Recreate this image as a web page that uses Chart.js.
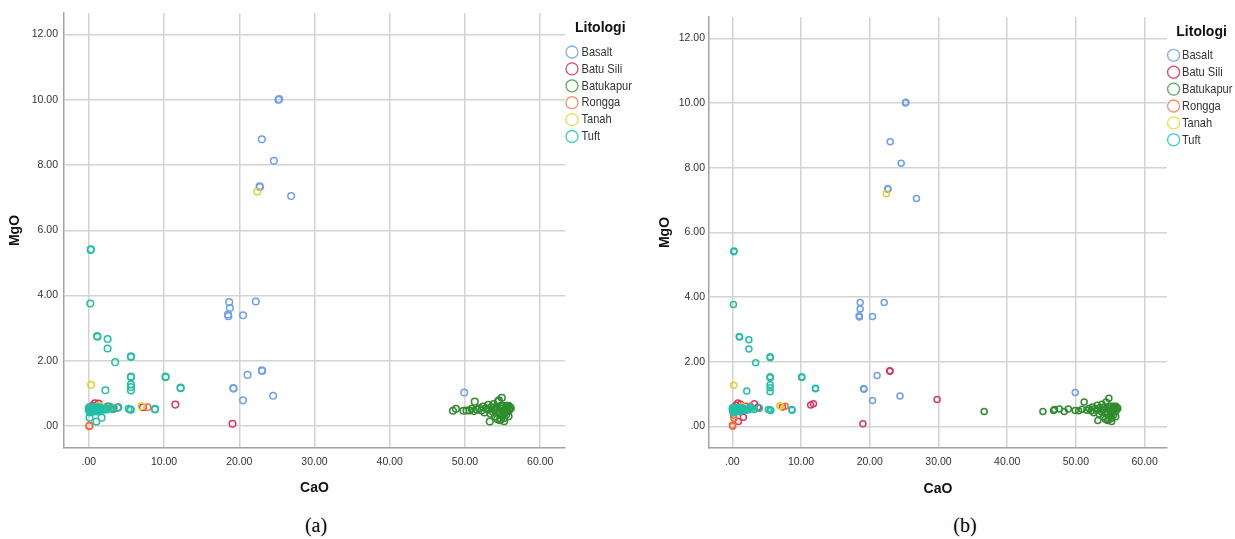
<!DOCTYPE html>
<html>
<head>
<meta charset="utf-8">
<script src="https://cdn.jsdelivr.net/npm/chart.js@4.4.1/dist/chart.umd.min.js"></script>
<style>
  body { margin: 0; background: #fff; width: 1235px; height: 539px; position: relative; overflow: hidden; }
  canvas { position: absolute; top: 0; }
  #chartA { left: 0; }
  #chartB { left: 645px; }
  .caption { position: absolute; top: 513px; width: 60px; margin-left: -30px; text-align: center;
             font: 20px "Liberation Serif", "Times New Roman", serif; color: #000; line-height: 24px; }
</style>
</head>
<body>
<canvas id="chartA" width="645" height="505"></canvas>
<canvas id="chartB" width="590" height="505"></canvas>
<div class="caption" style="left:316px">(a)</div>
<div class="caption" style="left:965px">(b)</div>
<script>
const litologi = ["Basalt", "Batu Sili", "Batukapur", "Rongga", "Tanah", "Tuft"]
const xTickValues = [0, 10, 20, 30, 40, 50, 60]
const xTickLabels = [".00", "10.00", "20.00", "30.00", "40.00", "50.00", "60.00"]
const yTickValues = [0, 2, 4, 6, 8, 10, 12]
const yTickLabels = [".00", "2.00", "4.00", "6.00", "8.00", "10.00", "12.00"]

// (a) CaO vs MgO, [CaO, MgO]
const basaltA = [
  [25.3, 10.02], [25.2, 10.0], [23.0, 8.79], [24.6, 8.13], [22.7, 7.35], [22.75, 7.33], [26.9, 7.05],
  [18.66, 3.80], [18.75, 3.62], [18.5, 3.42], [18.55, 3.37], [20.5, 3.40], [22.2, 3.82],
  [23.0, 1.71], [23.05, 1.69], [21.1, 1.57], [19.2, 1.17], [19.25, 1.15], [20.5, 0.79], [24.5, 0.93], [49.9, 1.03]
]
const batuSiliA = [
  [19.1, 0.07], [11.5, 0.66], [7.2, 0.58], [0.8, 0.70], [1.3, 0.69], [2.5, 0.60], [3.9, 0.58], [3.3, 0.55], [0.5, 0.62]
]
const batukapurA = [
  [48.4, 0.47], [48.8, 0.53], [49.8, 0.47], [50.2, 0.48], [50.6, 0.48], [50.9, 0.53], [51.2, 0.46], [51.3, 0.75],
  [51.6, 0.50], [51.9, 0.55], [52.2, 0.48], [52.4, 0.60], [52.6, 0.42], [52.8, 0.55], [53.0, 0.50], [53.1, 0.65],
  [53.3, 0.14], [53.4, 0.38], [53.5, 0.58], [53.7, 0.45], [53.8, 0.68], [54.0, 0.30], [54.1, 0.52], [54.2, 0.60],
  [54.3, 0.22], [54.4, 0.75], [54.5, 0.79], [54.6, 0.40], [54.7, 0.55], [54.8, 0.20], [54.9, 0.87], [54.9, 0.32],
  [55.0, 0.48], [55.1, 0.62], [55.2, 0.25], [55.3, 0.42], [55.4, 0.55], [55.5, 0.35], [55.6, 0.60], [55.7, 0.45],
  [55.8, 0.62], [55.9, 0.50], [56.0, 0.58], [55.2, 0.15], [54.6, 0.18], [55.8, 0.30], [53.9, 0.50], [54.3, 0.42],
  [55.0, 0.38], [54.8, 0.62], [55.5, 0.62], [56.1, 0.55]
]
const ronggaA = [[0.05, 0.0], [0.1, 0.02], [7.8, 0.58], [1.4, 0.60], [2.8, 0.58]]
const tanahA = [[22.4, 7.19], [0.3, 1.27], [7.0, 0.61], [1.3, 0.62], [1.6, 0.60], [2.9, 0.60]]
const tuftA = [
  [0.27, 5.42], [0.25, 5.40], [0.2, 3.76], [1.1, 2.76], [1.15, 2.74], [2.5, 2.67], [2.5, 2.38], [3.5, 1.96],
  [5.6, 2.14], [5.6, 2.12], [5.6, 1.52], [5.6, 1.50], [5.6, 1.28], [5.6, 1.20], [5.6, 1.09], [10.2, 1.52],
  [10.2, 1.50], [12.2, 1.18], [12.2, 1.16], [2.2, 1.10], [8.8, 0.51], [8.8, 0.53], [5.3, 0.53], [5.5, 0.51],
  [5.6, 0.50], [3.9, 0.57], [3.8, 0.56], [3.2, 0.52], [2.7, 0.60], [2.9, 0.55], [0.1, 0.26], [1.0, 0.14], [1.7, 0.26],
  [0.0, 0.50], [0.0, 0.55], [0.1, 0.45], [0.2, 0.52], [0.3, 0.56], [0.4, 0.48], [0.5, 0.53], [0.6, 0.50],
  [0.7, 0.55], [0.8, 0.47], [0.9, 0.52], [1.0, 0.50], [1.1, 0.55], [1.2, 0.48], [1.3, 0.53], [1.4, 0.50],
  [1.5, 0.56], [1.6, 0.50], [1.8, 0.52], [2.0, 0.50], [2.2, 0.53], [2.4, 0.51], [0.05, 0.58], [0.15, 0.42],
  [0.35, 0.44], [0.55, 0.58], [0.75, 0.45], [0.95, 0.58], [1.15, 0.45], [1.35, 0.58]
]

// (b) CaO vs MgO, [CaO, MgO]
const basaltB = [
  [25.25, 10.02], [25.2, 10.0], [22.97, 8.80], [24.57, 8.14], [22.6, 7.35], [22.65, 7.33], [26.8, 7.05],
  [18.6, 3.83], [18.6, 3.63], [18.45, 3.42], [18.5, 3.38], [20.4, 3.40], [22.1, 3.83],
  [21.07, 1.57], [19.1, 1.17], [19.15, 1.15], [20.4, 0.80], [24.4, 0.94], [49.9, 1.05]
]
const batuSiliB = [
  [22.9, 1.72], [22.95, 1.70], [29.8, 0.83], [19.0, 0.08], [11.4, 0.66], [11.8, 0.70], [0.87, 0.15], [1.6, 0.28],
  [3.7, 0.59], [3.2, 0.70], [7.3, 0.60], [0.8, 0.72], [0.5, 0.65], [2.0, 0.62], [3.9, 0.56], [1.2, 0.68]
]
const batukapurB = [
  [36.65, 0.46], [45.2, 0.46], [46.75, 0.49], [46.9, 0.52], [47.6, 0.54], [48.3, 0.46], [48.9, 0.54], [49.9, 0.49],
  [50.4, 0.48], [50.9, 0.53], [51.2, 0.75], [51.6, 0.50], [51.9, 0.55], [52.2, 0.48], [52.4, 0.60], [52.6, 0.42],
  [52.8, 0.55], [53.0, 0.50], [53.1, 0.65], [53.2, 0.18], [53.4, 0.38], [53.5, 0.58], [53.7, 0.45], [53.8, 0.68],
  [54.0, 0.30], [54.1, 0.52], [54.2, 0.60], [54.3, 0.22], [54.4, 0.75], [54.6, 0.40], [54.7, 0.55], [54.8, 0.20],
  [54.8, 0.87], [54.9, 0.32], [55.0, 0.48], [55.1, 0.62], [55.2, 0.25], [55.3, 0.42], [55.4, 0.55], [55.5, 0.35],
  [55.6, 0.60], [55.7, 0.45], [55.8, 0.62], [55.9, 0.50], [56.0, 0.58], [55.2, 0.15], [54.6, 0.18], [55.8, 0.30],
  [53.9, 0.50], [54.3, 0.42], [55.0, 0.38], [54.8, 0.62], [55.5, 0.62], [56.1, 0.55]
]
const ronggaB = [[0.0, 0.03], [0.05, 0.0], [0.15, 0.34], [0.25, 0.25], [7.7, 0.62], [2.6, 0.62], [1.5, 0.60]]
const tanahB = [[22.4, 7.19], [0.2, 1.27], [6.9, 0.64], [7.0, 0.62], [1.4, 0.62]]
const tuftB = [
  [0.25, 5.42], [0.2, 5.40], [0.15, 3.77], [1.0, 2.78], [1.05, 2.76], [2.4, 2.68], [2.4, 2.39], [3.4, 1.97],
  [5.5, 2.15], [5.5, 2.12], [5.5, 1.53], [5.5, 1.50], [5.5, 1.29], [5.5, 1.19], [5.5, 1.07], [10.1, 1.53],
  [10.1, 1.51], [12.1, 1.18], [12.1, 1.16], [2.1, 1.09], [8.65, 0.52], [8.7, 0.50], [5.25, 0.52], [5.5, 0.51],
  [5.6, 0.49], [3.9, 0.57], [3.2, 0.52], [2.7, 0.60], [2.9, 0.55],
  [0.0, 0.50], [0.0, 0.55], [0.1, 0.45], [0.2, 0.52], [0.3, 0.56], [0.4, 0.48], [0.5, 0.53], [0.6, 0.50],
  [0.7, 0.55], [0.8, 0.47], [0.9, 0.52], [1.0, 0.50], [1.1, 0.55], [1.2, 0.48], [1.3, 0.53], [1.4, 0.50],
  [1.5, 0.56], [1.6, 0.50], [1.8, 0.52], [2.0, 0.50], [2.2, 0.53], [2.4, 0.51], [0.05, 0.58], [0.15, 0.42],
  [0.35, 0.44], [0.55, 0.58], [0.75, 0.45], [0.95, 0.58], [1.15, 0.45], [1.35, 0.58]
]

const colors = ["#6f9fec", "#e2355c", "#2f8c2f", "#f26d3d", "#e4d02e", "#22bfa6"]
const legendColors = ["#86b0f0", "#e8466a", "#5aa85a", "#f5906a", "#eedc44", "#3fd0c0"]
const regular = "'Liberation Sans', Arial, sans-serif"

// SPSS style legend to the right of the plot; labels squeezed to look like a narrow face
const litologiLegend = {
  id: "litologiLegend",
  afterDraw(chart, args, opts) {
    const { ctx, chartArea } = chart
    ctx.save()
    ctx.textBaseline = "middle"
    ctx.fillStyle = "#111"
    ctx.font = "bold 14px " + regular
    ctx.fillText("Litologi", chartArea.right + opts.titleX, chartArea.top + 15)
    litologi.forEach((name, i) => {
      const y = chartArea.top + opts.firstRow + i * 16.9
      ctx.beginPath()
      ctx.arc(chartArea.right + opts.markX, y, 6, 0, Math.PI * 2)
      ctx.lineWidth = 1.3
      ctx.strokeStyle = legendColors[i]
      ctx.stroke()
      ctx.save()
      ctx.translate(chartArea.right + opts.textX, y)
      ctx.scale(0.82, 1)
      ctx.font = "13.5px " + regular
      ctx.fillStyle = "#333"
      ctx.fillText(name, 0, 0)
      ctx.restore()
    })
    ctx.restore()
  }
}

function buildChart(id, sets, cfg) {
  return new Chart(document.getElementById(id), {
    type: "scatter",
    data: {
      datasets: litologi.map((name, i) => ({
        label: name,
        data: sets[i].map(([x, y]) => ({ x, y })),
        borderColor: colors[i],
        backgroundColor: "transparent",
        pointRadius: cfg.radius,
        pointHoverRadius: cfg.radius,
        pointBorderWidth: 1.5,
        order: litologi.length - i
      }))
    },
    options: {
      responsive: false,
      animation: false,
      events: [],
      layout: { padding: { left: 0, top: cfg.top, right: cfg.right, bottom: 0 } },
      plugins: {
        legend: { display: false },
        tooltip: { enabled: false },
        litologiLegend: cfg.legend
      },
      scales: {
        x: {
          type: "linear",
          min: cfg.xMin,
          max: cfg.xMax,
          afterBuildTicks: s => { s.ticks = xTickValues.map(v => ({ value: v })) },
          afterFit: s => { s.height = 57 },
          grid: { color: "#d3d3d3", lineWidth: 1.5, drawTicks: false },
          border: { color: "#a3a3a3", width: 1.5 },
          ticks: { autoSkip: false, maxRotation: 0, padding: 8, color: "#333", font: { family: regular, size: 10.5 },
                   callback: (v, i) => xTickLabels[i] },
          title: { display: true, text: "CaO", color: "#111", font: { family: regular, size: 14, weight: "bold" },
                   padding: { top: 0, bottom: cfg.xTitlePad } }
        },
        y: {
          type: "linear",
          min: cfg.yMin,
          max: cfg.yMax,
          afterBuildTicks: s => { s.ticks = yTickValues.map(v => ({ value: v })) },
          afterFit: s => { s.width = 64 },
          grid: { color: "#d3d3d3", lineWidth: 1.5, drawTicks: false },
          border: { color: "#a3a3a3", width: 1.5 },
          ticks: { autoSkip: false, padding: cfg.yTickPad, color: "#333", font: { family: regular, size: 10.5 },
                   callback: (v, i) => yTickLabels[i] },
          title: { display: true, text: "MgO", color: "#111", font: { family: regular, size: 14, weight: "bold" },
                   padding: { top: cfg.yTitlePad, bottom: 0 } }
        }
      }
    },
    plugins: [litologiLegend]
  })
}

buildChart("chartA", [basaltA, batuSiliA, batukapurA, ronggaA, tanahA, tuftA], {
  radius: 3.3, top: 13, right: 80, xMin: -3.3, xMax: 63.3, yMin: -0.67, yMax: 12.66,
  xTitlePad: 8.6, yTitlePad: 6.6, yTickPad: 6,
  legend: { titleX: 10, markX: 7, textX: 16.5, firstRow: 39 }
})

buildChart("chartB", [basaltB, batuSiliB, batukapurB, ronggaB, tanahB, tuftB], {
  radius: 3, top: 17, right: 68, xMin: -3.4, xMax: 63.26, yMin: -0.67, yMax: 12.66,
  xTitlePad: 7.6, yTitlePad: 11.6, yTickPad: 4,
  legend: { titleX: 9.3, markX: 6.6, textX: 15, firstRow: 38.3 }
})
</script>
</body>
</html>
